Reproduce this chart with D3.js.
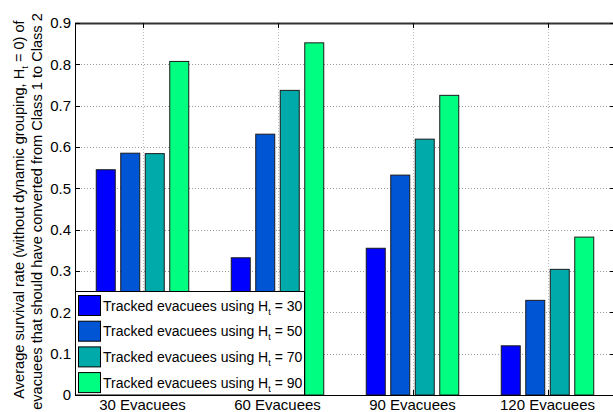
<!DOCTYPE html>
<html>
<head>
<meta charset="utf-8">
<script src="https://cdn.jsdelivr.net/npm/d3@7"></script>
<style>
  html, body { margin: 0; padding: 0; background: #fff; }
  svg { display: block; font-family: "Liberation Sans", Arial, Helvetica, sans-serif; }
</style>
</head>
<body>
<svg id="chart" width="613" height="412"></svg>
<script>
// Categories and series values
const categories = ["30 Evacuees", "60 Evacuees", "90 Evacuees", "120 Evacuees"];
const seriesNames = ["30", "50", "70", "90"];
const h30 = [0.545, 0.332, 0.355, 0.119];
const h50 = [0.585, 0.631, 0.532, 0.229];
const h70 = [0.584, 0.737, 0.619, 0.304];
const h90 = [0.807, 0.852, 0.725, 0.382];
const yTicks = [0, 0.1, 0.2, 0.3, 0.4, 0.5, 0.6, 0.7, 0.8, 0.9];
const colors = ["#0000ff", "#0055d4", "#00aaaa", "#00ff80"];

const seriesValues = [h30, h50, h70, h90];

const svg = d3.select("#chart");
const plotLeft = 75, plotRight = 615, plotTop = 23, plotBottom = 395;
const fontSize = 15;

const x = d3.scaleBand().domain(categories).range([plotLeft, plotRight]).padding(0);
const xs = d3.scaleBand().domain(seriesNames).range([-46.75, 46.75]).paddingInner(0.184).paddingOuter(0);
const y = d3.scaleLinear().domain([0, 0.9]).range([plotBottom, plotTop]);
const cx = c => x(c) + x.bandwidth() / 2;

// Dotted grid
const grid = svg.append("g").attr("stroke-width", 1).attr("stroke-dasharray", "1,2");
grid.selectAll("line.h").data(yTicks.slice(1, -1)).join("line")
  .attr("stroke", "#999")
  .attr("x1", plotLeft).attr("x2", plotRight)
  .attr("y1", d => Math.round(y(d)) + 0.5).attr("y2", d => Math.round(y(d)) + 0.5);
grid.selectAll("line.v").data(categories).join("line")
  .attr("stroke", "#bbb")
  .attr("x1", d => Math.round(cx(d)) + 0.5).attr("x2", d => Math.round(cx(d)) + 0.5)
  .attr("y1", plotTop).attr("y2", plotBottom);

// Bars
const bars = [];
seriesValues.forEach((vals, si) => {
  vals.forEach((v, ci) => bars.push({ s: seriesNames[si], si, c: categories[ci], v }));
});
svg.append("g").selectAll("rect").data(bars).join("rect")
  .attr("x", d => cx(d.c) + xs(d.s) + 0.5)
  .attr("width", xs.bandwidth() - 1)
  .attr("y", d => y(d.v))
  .attr("height", d => y(0) - y(d.v))
  .attr("fill", d => colors[d.si])
  .attr("stroke", "#1a1a1a")
  .attr("stroke-width", 1);

// Axes box and ticks
const axisG = svg.append("g").attr("stroke", "#000").attr("stroke-width", 1);
axisG.append("line").attr("x1", plotLeft + 0.5).attr("x2", plotLeft + 0.5).attr("y1", plotTop).attr("y2", plotBottom + 0.5);
axisG.append("line").attr("x1", plotLeft).attr("x2", plotRight).attr("y1", plotBottom + 0.5).attr("y2", plotBottom + 0.5);
axisG.append("line").attr("x1", plotLeft).attr("x2", plotRight).attr("y1", plotTop + 0.5).attr("y2", plotTop + 0.5)
  .attr("stroke", "#333").attr("stroke-width", 2);
axisG.append("line").attr("x1", plotRight - 0.5).attr("x2", plotRight - 0.5).attr("y1", plotTop).attr("y2", plotBottom);

// y ticks inward on both sides
axisG.selectAll("line.yl").data(yTicks).join("line")
  .attr("x1", plotLeft).attr("x2", plotLeft + 5)
  .attr("y1", d => Math.round(y(d)) + 0.5).attr("y2", d => Math.round(y(d)) + 0.5);
axisG.selectAll("line.yr").data(yTicks).join("line")
  .attr("x1", plotRight - 5).attr("x2", plotRight)
  .attr("y1", d => Math.round(y(d)) + 0.5).attr("y2", d => Math.round(y(d)) + 0.5);
// x ticks inward top and bottom
axisG.selectAll("line.xt").data(categories).join("line")
  .attr("x1", d => Math.round(cx(d)) + 0.5).attr("x2", d => Math.round(cx(d)) + 0.5)
  .attr("y1", plotTop).attr("y2", plotTop + 5);
axisG.selectAll("line.xb").data(categories).join("line")
  .attr("x1", d => Math.round(cx(d)) + 0.5).attr("x2", d => Math.round(cx(d)) + 0.5)
  .attr("y1", plotBottom - 5).attr("y2", plotBottom);

// Tick labels
svg.append("g").selectAll("text").data(yTicks).join("text")
  .attr("x", 71).attr("y", d => y(d)).attr("dy", "0.36em")
  .attr("text-anchor", "end").attr("font-size", fontSize).attr("fill", "#000")
  .text(d => d === 0 ? "0" : d3.format(".1f")(d));

svg.append("g").selectAll("text").data(categories).join("text")
  .attr("x", d => cx(d)).attr("y", 410)
  .attr("text-anchor", "middle").attr("font-size", fontSize).attr("fill", "#000")
  .text(d => d);

// Two-line y-axis title
const titleSize = 14.6;
const yl1 = svg.append("text").attr("transform", "translate(24,209.5) rotate(-90)")
  .attr("text-anchor", "middle").attr("font-size", titleSize).attr("fill", "#000");
yl1.append("tspan").text("Average survival rate (without dynamic grouping, H");
yl1.append("tspan").attr("font-size", 9.5).attr("dy", 4).text("t");
yl1.append("tspan").attr("dy", -4).text(" = 0) of");
svg.append("text").attr("transform", "translate(42,211.5) rotate(-90)")
  .attr("text-anchor", "middle").attr("font-size", titleSize).attr("fill", "#000")
  .text("evacuees that should have converted from Class 1 to Class 2");

// Legend
const legendSize = 14;
const lg = svg.append("g");
lg.append("rect").attr("x", plotLeft + 0.5).attr("y", 291.5).attr("width", 229).attr("height", 103.5)
  .attr("fill", "#fff").attr("stroke", "#000").attr("stroke-width", 1);
const rows = lg.selectAll("g.row").data(seriesNames).join("g")
  .attr("transform", (d, i) => `translate(0, ${295 + i * 25.7})`);
rows.append("rect").attr("x", 78.5).attr("y", 0.5).attr("width", 22).attr("height", 20)
  .attr("fill", (d, i) => colors[i]).attr("stroke", "#000").attr("stroke-width", 1);
const lt = rows.append("text").attr("x", 103).attr("y", 15.5).attr("font-size", legendSize).attr("fill", "#000");
lt.append("tspan").text("Tracked evacuees using H");
lt.append("tspan").attr("font-size", 9).attr("dy", 4).text("t");
lt.append("tspan").attr("dy", -4).text(d => " = " + d);
</script>
</body>
</html>
